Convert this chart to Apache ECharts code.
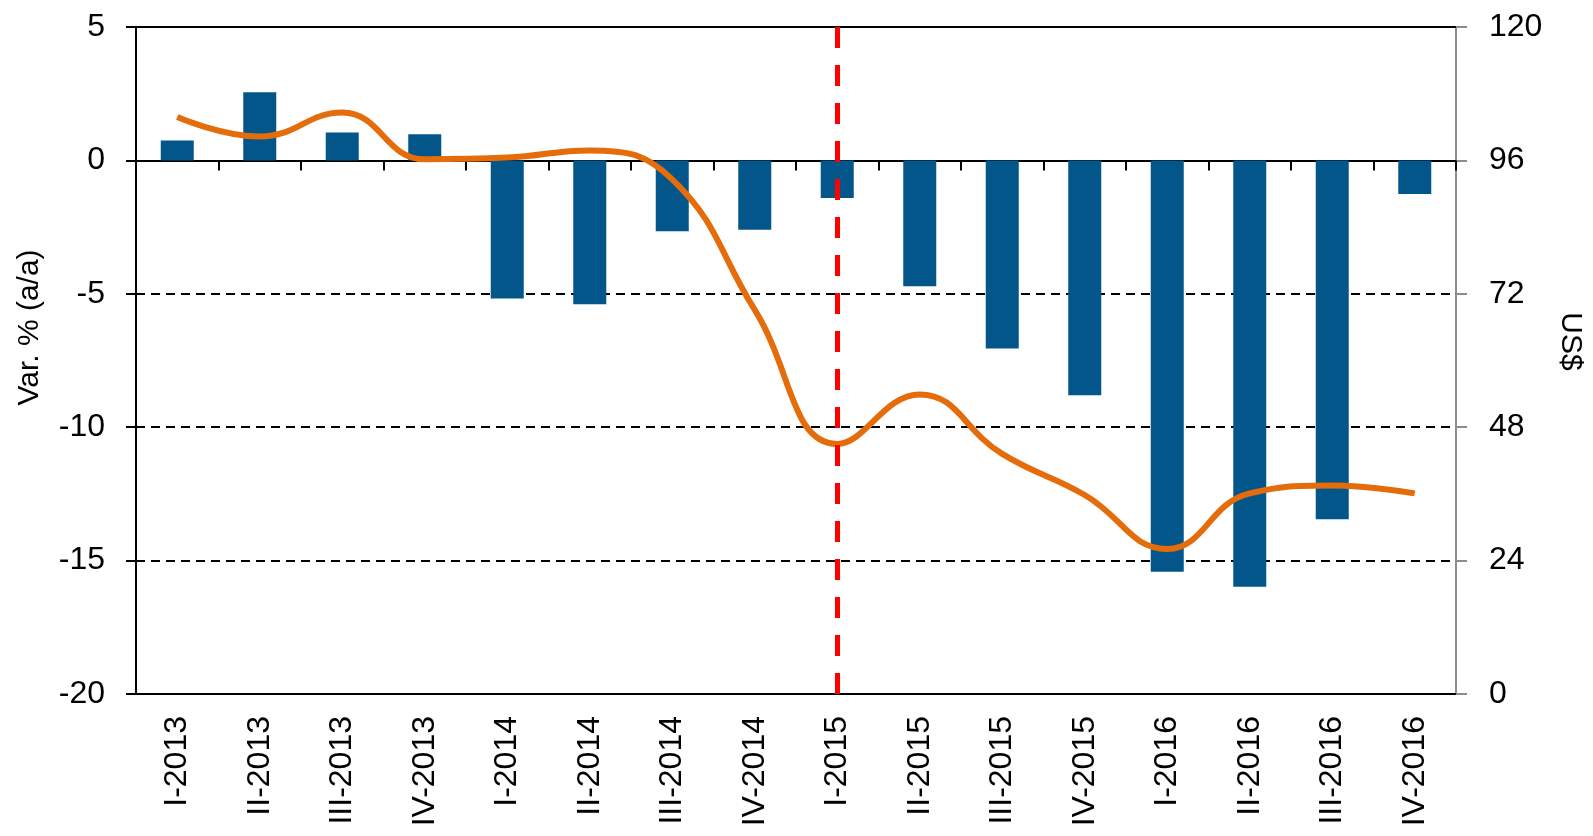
<!DOCTYPE html>
<html>
<head>
<meta charset="utf-8">
<script src="https://cdn.jsdelivr.net/npm/echarts@6/dist/echarts.min.js"></script>
<style>
html,body{margin:0;padding:0;background:#fff;}
#chart{width:1593px;height:836px;}
</style>
</head>
<body>
<div id="chart"></div>
<script>
const categories = ['I-2013','II-2013','III-2013','IV-2013','I-2014','II-2014','III-2014','IV-2014','I-2015','II-2015','III-2015','IV-2015','I-2016','II-2016','III-2016','IV-2016'];
const varPct = [0.75, 2.55, 1.05, 0.98, -5.18, -5.39, -2.66, -2.60, -1.41, -4.72, -7.05, -8.80, -15.42, -15.98, -13.45, -1.26];
const priceUSD = [103.8, 100.3, 104.6, 96.2, 96.5, 97.8, 92.6, 69.1, 45.0, 53.9, 43.2, 35.8, 26.1, 36.1, 37.5, 36.1];
const leftTicks = {min: -20, max: 5, interval: 5};
const rightTicks = {min: 0, max: 120, interval: 24};
const markerCategory = 'I-2015';

const font = 'Liberation Sans, Arial, sans-serif';
const chart = echarts.init(document.getElementById('chart'));
chart.setOption({
  animation: false,
  backgroundColor: '#ffffff',
  textStyle: {fontFamily: font, color: '#000'},
  grid: {left: 136, right: 136, top: 27, bottom: 142, containLabel: false},
  xAxis: [
    {
      type: 'category', data: categories, position: 'bottom',
      axisLine: {onZero: true, onZeroAxisIndex: 0, lineStyle: {color: '#000', width: 2}},
      axisTick: {show: true, inside: false, length: 10, lineStyle: {color: '#000', width: 2}},
      axisLabel: {show: false},
      splitLine: {show: false}
    },
    {
      type: 'category', data: categories, position: 'bottom',
      axisLine: {onZero: false, lineStyle: {color: '#000', width: 2}},
      axisTick: {show: false},
      axisLabel: {show: true, interval: 0, rotate: 90, margin: 22, fontSize: 32, color: '#000', fontFamily: font},
      splitLine: {show: false}
    }
  ],
  yAxis: [
    {
      type: 'value', position: 'left',
      min: leftTicks.min, max: leftTicks.max, interval: leftTicks.interval,
      name: 'Var. % (a/a)', nameLocation: 'middle', nameRotate: 90, nameGap: 91,
      nameTextStyle: {fontSize: 30, color: '#000', fontFamily: font, padding: [0, 0, 0, 66]},
      axisLine: {show: true, lineStyle: {color: '#000', width: 2}},
      axisTick: {show: true, inside: false, length: 10, lineStyle: {color: '#000', width: 2}},
      axisLabel: {fontSize: 32, color: '#000', margin: 31, fontFamily: font},
      splitLine: {show: true, lineStyle: {color: '#000', width: 2.2, type: [9, 6]}}
    },
    {
      type: 'value', position: 'right',
      min: rightTicks.min, max: rightTicks.max, interval: rightTicks.interval,
      name: 'US$', nameLocation: 'middle', nameRotate: -90, nameGap: 99,
      nameTextStyle: {fontSize: 30, color: '#000', fontFamily: font, padding: [0, 38, 0, 0]},
      axisLine: {show: true, lineStyle: {color: '#8c8c8c', width: 2}},
      axisTick: {show: true, inside: false, length: 11, lineStyle: {color: '#8c8c8c', width: 2}},
      axisLabel: {fontSize: 32, color: '#000', margin: 33, fontFamily: font},
      splitLine: {show: false}
    }
  ],
  series: [
    {
      type: 'bar', name: 'Var. %', data: varPct,
      xAxisIndex: 0, yAxisIndex: 0,
      barWidth: '40%',
      itemStyle: {color: '#03568a'},
      z: 2,
      markLine: {
        silent: true, symbol: 'none', label: {show: false},
        lineStyle: {color: '#000', width: 2, type: 'solid'},
        data: [{yAxis: leftTicks.max}]
      }
    },
    {
      type: 'line', name: 'US$', data: priceUSD,
      xAxisIndex: 0, yAxisIndex: 1,
      smooth: 0.45, showSymbol: false, symbol: 'none',
      lineStyle: {color: '#e46c0a', width: 6},
      z: 4,
      markLine: {
        silent: true, symbol: 'none', label: {show: false},
        lineStyle: {color: '#ff0000', width: 5, type: [21, 17]},
        data: [{xAxis: markerCategory}]
      }
    }
  ]
});
</script>
</body>
</html>
